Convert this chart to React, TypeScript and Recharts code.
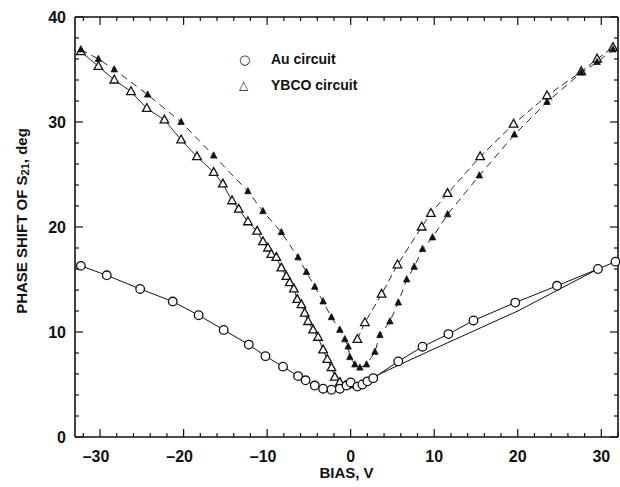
import React from "react";
import { ScatterChart, Scatter, XAxis, YAxis } from "recharts";

// Au circuit (open circles, solid line)
const auBias = [-32.3, -29.2, -25.2, -21.3, -18.2, -15.2, -12.2, -10.2, -8.1, -6.3, -5.4, -4.3, -3.3, -2.3, -1.3, -0.5, 0, 0.8, 1.4, 2, 2.7, 5.7, 8.6, 11.7, 14.7, 19.7, 24.7, 29.6, 31.7];
const auPhase = [16.3, 15.4, 14.1, 12.9, 11.6, 10.2, 8.8, 7.7, 6.7, 5.8, 5.4, 4.9, 4.6, 4.5, 4.6, 4.9, 5.2, 4.8, 5.0, 5.3, 5.6, 7.2, 8.6, 9.8, 11.1, 12.8, 14.4, 16.0, 16.7];

// Au return sweep (line only)
const auReturnBias = [29.6, 20, 10, 4, 1, 0.3];
const auReturnPhase = [16.0, 12.0, 8.4, 6.2, 5.0, 4.8];

// YBCO circuit, open triangles
const ybcoOpenLeftBias = [-32.3, -30.2, -28.3, -26.3, -24.4, -22.3, -20.3, -18.4, -16.4, -15.3, -14.2, -13.4, -12.3, -11.2, -10.5, -9.9, -9.5, -8.9, -8.3, -7.7, -7.3, -6.8, -6.4, -5.9, -5.5, -5.1, -4.5, -3.9, -3.3, -2.8, -2.3, -1.9, -1.3, -0.6, 0];
const ybcoOpenLeftPhase = [36.7, 35.3, 34.0, 32.9, 31.3, 30.2, 28.3, 26.7, 25.2, 24.1, 22.5, 21.7, 20.5, 19.6, 18.6, 18.0, 17.4, 17.1, 16.1, 15.3, 14.7, 14.1, 13.1, 12.6, 11.8, 11.0, 10.2, 9.5, 8.3, 7.4, 6.6, 5.7, 5.2, 4.9, 5.0];
const ybcoOpenRightBias = [0.8, 1.7, 3.7, 5.6, 8.5, 9.6, 11.6, 15.5, 19.5, 23.5, 27.6, 29.5, 31.4];
const ybcoOpenRightPhase = [9.3, 10.9, 13.6, 16.4, 20.0, 21.3, 23.2, 26.7, 29.8, 32.5, 34.8, 36.0, 37.1];

// YBCO circuit, filled triangles (dashed)
const ybcoFilledBias = [-32.3, -30.2, -28.3, -24.3, -20.3, -16.4, -12.3, -10.5, -8.3, -6.3, -5.3, -4.3, -3.3, -2.3, -1.3, -0.7, -0.3, -0.1, 0.5, 1.1, 1.9, 2.9, 3.5, 4.7, 5.7, 6.7, 7.6, 8.6, 9.8, 11.6, 15.4, 19.6, 23.5, 27.6, 29.5, 31.4];
const ybcoFilledPhase = [36.9, 36.0, 35.0, 32.6, 30.0, 26.8, 23.4, 21.5, 19.5, 17.1, 15.7, 14.3, 12.9, 11.4, 10.2, 9.3, 8.6, 7.6, 6.9, 6.6, 6.9, 8.1, 9.7, 11.0, 12.8, 15.0, 16.2, 17.9, 19.0, 21.2, 24.9, 28.8, 31.9, 34.7, 35.7, 36.9];

const xTicks = [-32, -30, -28, -26, -24, -22, -20, -18, -16, -14, -12, -10, -8, -6, -4, -2, 0, 2, 4, 6, 8, 10, 12, 14, 16, 18, 20, 22, 24, 26, 28, 30, 32];
const yTicks = [0, 2, 4, 6, 8, 10, 12, 14, 16, 18, 20, 22, 24, 26, 28, 30, 32, 34, 36, 38, 40];
const legendLabels = ["Au circuit", "YBCO circuit"];
const legendSymbols = ["\u25CB", "\u25B3"];

const INK = "#111";
const FONT = "'Liberation Sans', Arial, Helvetica, sans-serif";

const zip = (xs: number[], ys: number[]) => xs.map((x, i) => ({ x, y: ys[i] }));

// inward tick marks on every side of the frame, labels only on bottom/left
function frameTick(side: "bottom" | "top" | "left" | "right") {
  return (props: any) => {
    const { x, y, payload } = props;
    const v = payload.value;
    const major = v % 10 === 0;
    const len = major ? 8 : 4;
    const label = v < 0 ? `\u2013${Math.abs(v)}` : `${v}`;
    const textProps = { fill: INK, fontSize: 16, fontWeight: 700, fontFamily: FONT };
    let x2 = x;
    let y2 = y;
    if (side === "bottom") y2 = y - len;
    if (side === "top") y2 = y + len;
    if (side === "left") x2 = x + len;
    if (side === "right") x2 = x - len;
    return (
      <g>
        <path d={`M${x},${y}L${x2},${y2}`} stroke={INK} strokeWidth={1.2} fill="none" />
        {major && side === "bottom" && (
          <text x={x - (v < 0 ? 4 : 0)} y={y + 25} textAnchor="middle" {...textProps}>
            {label}
          </text>
        )}
        {major && side === "left" && (
          <text x={x - 9} y={y + 6} textAnchor="end" {...textProps}>
            {label}
          </text>
        )}
      </g>
    );
  };
}

function YTitle(props: any) {
  const { viewBox } = props;
  const cx = 21;
  const cy = viewBox.y + viewBox.height / 2 - 6;
  return (
    <text
      x={cx}
      y={cy}
      transform={`rotate(-90 ${cx} ${cy})`}
      textAnchor="middle"
      dominantBaseline="central"
      fill={INK}
      fontSize={15}
      fontWeight={700}
      fontFamily={FONT}
    >
      PHASE SHIFT OF S
      <tspan fontSize={11} dy={4}>21</tspan>
      <tspan dy={-4}>, deg</tspan>
    </text>
  );
}

const circleShape = (p: any) => (
  <circle cx={p.cx} cy={p.cy} r={4.3} fill="#fff" stroke={INK} strokeWidth={1.3} />
);

const openTriangle = (p: any) => (
  <path
    d={`M${p.cx},${p.cy - 4.8} L${p.cx + 4.3},${p.cy + 3} L${p.cx - 4.3},${p.cy + 3} Z`}
    fill="#fff"
    stroke={INK}
    strokeWidth={1.3}
  />
);

const filledTriangle = (p: any) => (
  <path
    d={`M${p.cx},${p.cy - 3.8} L${p.cx + 3.2},${p.cy + 2.4} L${p.cx - 3.2},${p.cy + 2.4} Z`}
    fill={INK}
    stroke={INK}
    strokeWidth={0.8}
  />
);

const tinyDot = (p: any) => <circle cx={p.cx} cy={p.cy} r={0.5} fill={INK} />;

// legend drawn as plain html over the chart
function LegendOverlay() {
  return (
    <div
      style={{
        position: "absolute",
        left: 237,
        top: 46,
        fontFamily: FONT,
        fontWeight: 700,
        fontSize: 14,
        color: INK,
      }}
    >
      {legendLabels.map((name, i) => (
        <div key={name} style={{ display: "flex", alignItems: "center", height: 26 }}>
          <span
            style={{
              width: 32,
              fontFamily: "'DejaVu Sans', sans-serif",
              fontSize: i === 0 ? 13 : 12,
              fontWeight: 700,
              paddingLeft: 2,
            }}
          >
            {legendSymbols[i]}
          </span>
          <span>{name}</span>
        </div>
      ))}
    </div>
  );
}

export default function App() {
  return (
    <div style={{ position: "absolute", left: 0, top: 0, width: 620, height: 487 }}>
      <ScatterChart
        width={620}
        height={487}
        margin={{ top: 0, right: 0, bottom: 0, left: 0 }}
      >
        <XAxis
          type="number"
          dataKey="x"
          domain={[-33, 32]}
          ticks={xTicks}
          interval={0}
          height={50}
          tickSize={0}
          tickMargin={0}
          tick={frameTick("bottom")}
          axisLine={{ stroke: INK, strokeWidth: 1.6 }}
          label={{
            value: "BIAS, V",
            position: "insideBottom",
            offset: 9,
            fill: INK,
            fontSize: 15,
            fontWeight: 700,
            fontFamily: FONT,
          }}
        />
        <XAxis
          xAxisId="top"
          orientation="top"
          type="number"
          dataKey="x"
          domain={[-33, 32]}
          ticks={xTicks}
          interval={0}
          height={17}
          tickSize={0}
          tickMargin={0}
          tick={frameTick("top")}
          axisLine={{ stroke: INK, strokeWidth: 1.6 }}
        />
        <YAxis
          type="number"
          dataKey="y"
          domain={[0, 40]}
          ticks={yTicks}
          interval={0}
          width={75}
          tickSize={0}
          tickMargin={0}
          tick={frameTick("left")}
          axisLine={{ stroke: INK, strokeWidth: 1.6 }}
          label={<YTitle />}
        />
        <YAxis
          yAxisId="right"
          orientation="right"
          type="number"
          dataKey="y"
          domain={[0, 40]}
          ticks={yTicks}
          interval={0}
          width={2}
          tickSize={0}
          tickMargin={0}
          tick={frameTick("right")}
          axisLine={{ stroke: INK, strokeWidth: 1.6 }}
        />
        <Scatter
          data={zip(auReturnBias, auReturnPhase)}
          line={{ stroke: INK, strokeWidth: 1 }}
          lineJointType="linear"
          shape={tinyDot}
          isAnimationActive={false}
        />
        <Scatter
          data={zip(ybcoOpenLeftBias, ybcoOpenLeftPhase)}
          line={{ stroke: INK, strokeWidth: 0.9 }}
          lineJointType="linear"
          shape={openTriangle}
          isAnimationActive={false}
        />
        <Scatter
          data={zip(ybcoOpenRightBias, ybcoOpenRightPhase)}
          line={{ stroke: INK, strokeWidth: 0.9, strokeDasharray: "7 4" }}
          lineJointType="linear"
          shape={openTriangle}
          isAnimationActive={false}
        />
        <Scatter
          data={zip(ybcoFilledBias, ybcoFilledPhase)}
          line={{ stroke: INK, strokeWidth: 0.9, strokeDasharray: "7 5" }}
          lineJointType="linear"
          shape={filledTriangle}
          isAnimationActive={false}
        />
        <Scatter
          data={zip(auBias, auPhase)}
          xAxisId="top"
          yAxisId="right"
          line={{ stroke: INK, strokeWidth: 1 }}
          lineJointType="linear"
          shape={circleShape}
          isAnimationActive={false}
        />
      </ScatterChart>
      <LegendOverlay />
    </div>
  );
}
